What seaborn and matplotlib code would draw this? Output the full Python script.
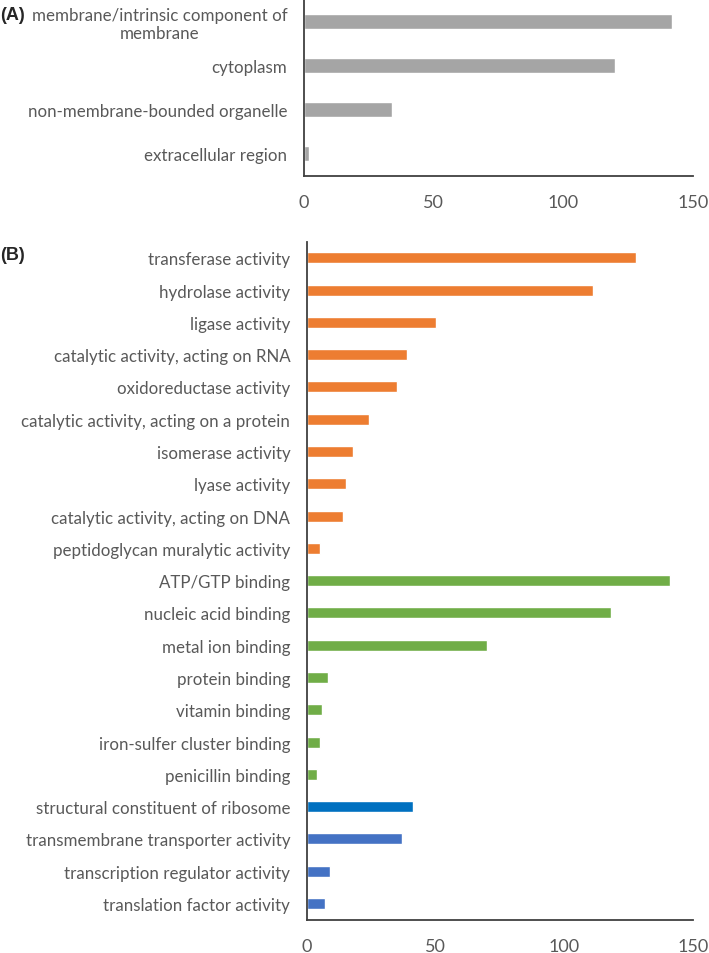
import matplotlib
matplotlib.use("Agg")
import matplotlib.pyplot as plt
import seaborn as sns
import pandas as pd

# ---------------------------------------------------------
# data
# ---------------------------------------------------------
cc_terms = [
    "membrane/intrinsic component of\nmembrane",
    "cytoplasm",
    "non-membrane-bounded organelle",
    "extracellular region",
]
cc_counts = [142, 120, 34, 2]

mf_catalytic = [
    "transferase activity",
    "hydrolase activity",
    "ligase activity",
    "catalytic activity, acting on RNA",
    "oxidoreductase activity",
    "catalytic activity, acting on a protein",
    "isomerase activity",
    "lyase activity",
    "catalytic activity, acting on DNA",
    "peptidoglycan muralytic activity",
]
mf_catalytic_counts = [128, 111, 50, 39, 35, 24, 18, 15, 14, 5]

mf_binding = [
    "ATP/GTP binding",
    "nucleic acid binding",
    "metal ion binding",
    "protein binding",
    "vitamin binding",
    "iron-sulfer cluster binding",
    "penicillin binding",
]
mf_binding_counts = [141, 118, 70, 8, 6, 5, 4]

mf_structural = ["structural constituent of ribosome"]
mf_structural_counts = [41]

mf_other = [
    "transmembrane transporter activity",
    "transcription regulator activity",
    "translation factor activity",
]
mf_other_counts = [37, 9, 7]

group_colors = {
    "cc": "#A5A5A5",
    "catalytic": "#ED7D31",
    "binding": "#70AD47",
    "structural": "#0070C0",
    "other": "#4472C4",
}

text_grey = "#595959"

df_a = pd.DataFrame({"term": cc_terms, "count": cc_counts, "group": "cc"})
df_b = pd.concat([
    pd.DataFrame({"term": mf_catalytic, "count": mf_catalytic_counts, "group": "catalytic"}),
    pd.DataFrame({"term": mf_binding, "count": mf_binding_counts, "group": "binding"}),
    pd.DataFrame({"term": mf_structural, "count": mf_structural_counts, "group": "structural"}),
    pd.DataFrame({"term": mf_other, "count": mf_other_counts, "group": "other"}),
], ignore_index=True)

sns.set_style("white")
plt.rcParams["font.family"] = ["Lato", "DejaVu Sans"]

fig = plt.figure(figsize=(7.09, 9.54), dpi=100)
ax_a = fig.add_axes([304 / 709, 1 - 176.7 / 954, (693 - 304) / 709, 176.7 / 954])
ax_b = fig.add_axes([307 / 709, 1 - 920.7 / 954, (693 - 307) / 709, (920.7 - 242.7) / 954])


def style_panel(ax, df):
    sns.barplot(data=df, x="count", y="term", hue="group", palette=group_colors,
                dodge=False, legend=False, width=0.34, orient="h", ax=ax,
                saturation=1)
    ax.set_xlim(0, 150)
    ax.set_xticks([0, 50, 100, 150])
    ax.set_xlabel("")
    ax.set_ylabel("")
    sns.despine(ax=ax)
    for side in ["left", "bottom"]:
        ax.spines[side].set_color("#404040")
        ax.spines[side].set_linewidth(1.3)
    ax.tick_params(axis="both", length=0, labelcolor=text_grey)
    ax.tick_params(axis="y", pad=12, labelsize=12.2)
    ax.tick_params(axis="x", pad=13, labelsize=13)
    for lbl in ax.get_yticklabels():
        lbl.set_multialignment("center")


style_panel(ax_a, df_a)
style_panel(ax_b, df_b)

fig.text(0.0, 1 - 15 / 954, "(A)", fontsize=13, fontweight="bold",
         family=["Liberation Sans", "DejaVu Sans"], va="center", ha="left")
fig.text(0.0, 1 - 256 / 954, "(B)", fontsize=13, fontweight="bold",
         family=["Liberation Sans", "DejaVu Sans"], va="center", ha="left")

fig.savefig("out.png", dpi=100)
